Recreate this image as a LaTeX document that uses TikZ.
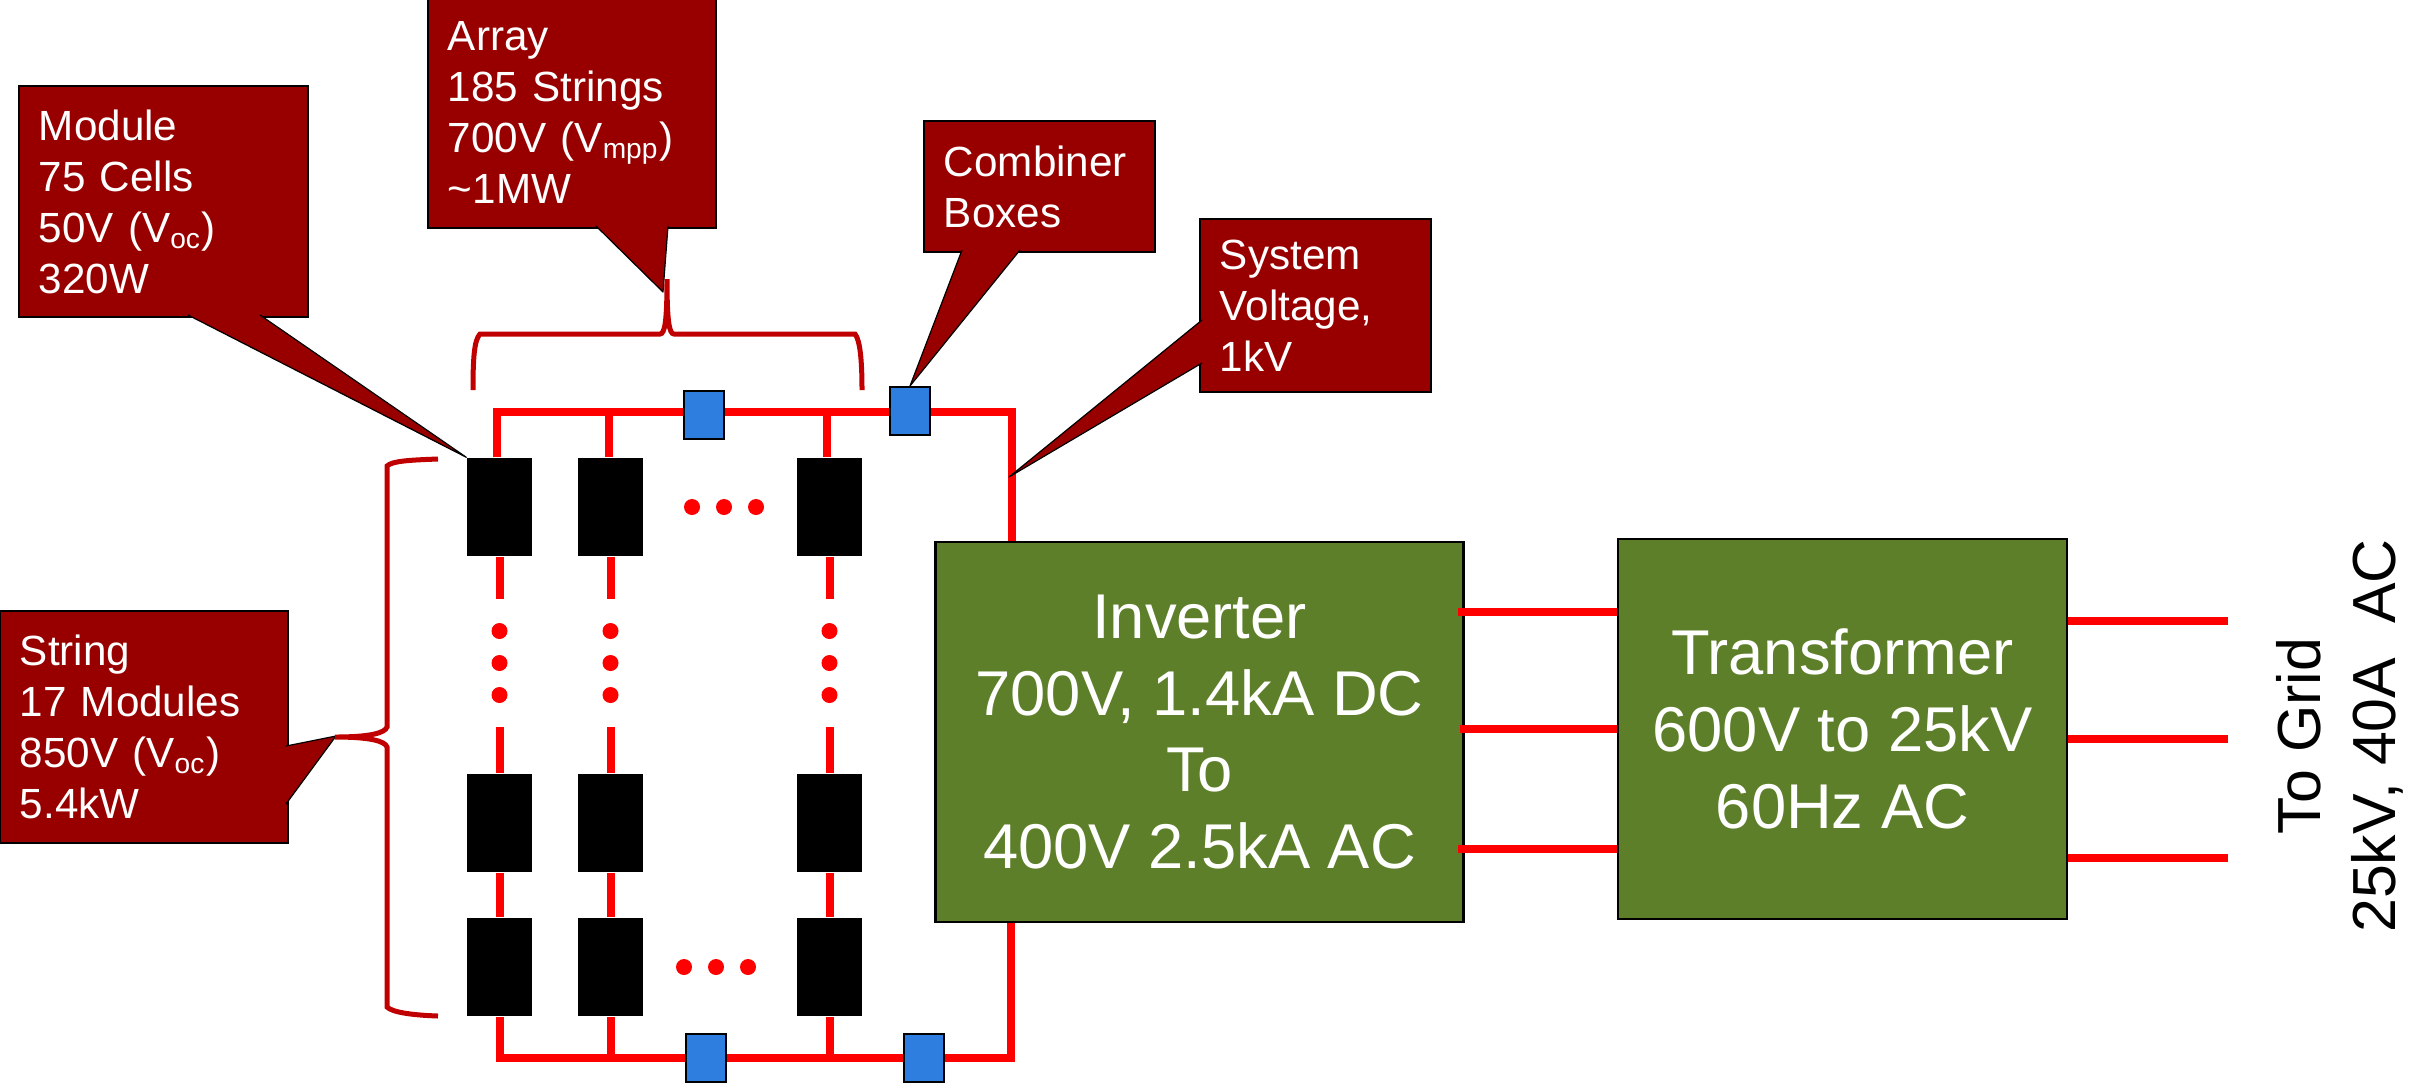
\documentclass[tikz,border=0pt]{standalone}
\usepackage{fontspec}
\setmainfont{Liberation Sans}
\usetikzlibrary{positioning}
\definecolor{calloutred}{HTML}{980000}
\definecolor{unitgreen}{HTML}{5E7F2A}
\definecolor{boxblue}{HTML}{2E7EE0}
\definecolor{bracketred}{HTML}{C00000}
\begin{document}
\begin{tikzpicture}[
            x=0.01cm, y=-0.01cm,
            callout/.style={draw=black, line width=0.02cm, fill=calloutred, text=white, inner xsep=0.2cm, inner ysep=0pt, align=left, font=\fontsize{12}{14.5}\selectfont},
            unit/.style={draw=black, line width=0.025cm, fill=unitgreen, text=white, inner sep=0pt, align=center, font=\fontsize{18}{21.8}\selectfont},
            module/.style={fill=black, inner sep=0pt, minimum width=0.65cm, minimum height=0.98cm},
            combiner/.style={draw=black, line width=0.02cm, fill=boxblue, inner sep=0pt, minimum width=0.40cm, minimum height=0.48cm},
            dot/.style={circle, fill=red, inner sep=0pt, minimum size=0.16cm},
            wire/.style={draw=red, line width=0.08cm},
            wedge/.style={draw=black, line width=0.012cm, line join=round, fill=calloutred},
            bracket/.style={draw=bracketred, line width=0.05cm}
        ]

            \useasboundingbox (0,0) rectangle (2413,1084);

            \node[callout, text width=2.49cm, minimum height=2.31cm] (modulenote) at (163.5,201.5) {Module\\75 Cells\\50V (V\textsubscript{oc})\\320W};
            \node[callout, text width=2.48cm, minimum height=2.31cm] (arraynote) at (572,112.5) {Array\\185 Strings\\700V (V\textsubscript{mpp})\\\textasciitilde1MW};
            \node[callout, text width=1.91cm, minimum height=1.31cm] (combinernote) at (1039.5,186.5) {Combiner\\Boxes};
            \node[callout, text width=1.91cm, minimum height=1.73cm] (systemnote) at (1315.5,305.5) {System\\Voltage,\\1kV};
            \node[callout, text width=2.48cm, minimum height=2.32cm] (stringnote) at (144,727) {String\\17 Modules\\850V (V\textsubscript{oc})\\5.4kW};

            \node[unit, minimum width=5.28cm, minimum height=3.80cm] (inverter) at (1199.5,732) {Inverter\\700V, 1.4kA DC\\To\\400V 2.5kA AC};
            \node[unit, minimum width=4.49cm, minimum height=3.80cm] (transformer) at (1842.5,729) {Transformer\\600V to 25kV\\60Hz AC};
            \node[rotate=90, align=center, font=\fontsize{17.3}{21.3}\selectfont] (grid) at (2340,736) {To Grid\\25kV, 40A\ \ AC};

            \foreach \c/\x in {a/499.5,b/610.5,c/829.5} {
                \node[module] (m\c1) at (\x,507) {};
                \node[module] (m\c2) at (\x,823) {};
                \node[module] (m\c3) at (\x,967) {};
                \coordinate (up\c) at (\x,599);
                \coordinate (dn\c) at (\x,727);
                \coordinate (bot\c) at (\x,1058);
                \foreach \y in {631,663,695}
                    \node[dot] (d\c\y) at (\x,\y) {};
                \draw[wire] (m\c1.south) -- (up\c);
                \draw[wire] (dn\c) -- (m\c2.north);
                \draw[wire] (m\c2.south) -- (m\c3.north);
                \draw[wire] (m\c3.south) -- (bot\c);
            }

            \foreach \x in {692,724,756}
                \node[dot] (topdot\x) at (\x,507) {};
            \foreach \x in {684,716,748}
                \node[dot] (botdot\x) at (\x,967) {};

            \node[combiner] (cbt1) at (704,415) {};
            \node[combiner] (cbt2) at (910,411) {};
            \node[combiner] (cbb1) at (705.5,1057.5) {};
            \node[combiner] (cbb2) at (924,1057.5) {};

            \coordinate (topa) at (497,412);
            \coordinate (topb) at (609,412);
            \coordinate (topc) at (827,412);
            \coordinate (topr) at (1012,412);
            \coordinate (botr) at (1011,1058);

            \draw[wire] (topa |- ma1.north) -- (topa) -- (topa -| cbt1.west);
            \draw[wire] (topb) -- (topb |- mb1.north);
            \draw[wire] (topc) -- (topc |- mc1.north);
            \draw[wire] (topa -| cbt1.east) -- (topa -| cbt2.west);
            \draw[wire] (topa -| cbt2.east) -- (topr) -- (topr |- inverter.north);
            \draw[wire] (inverter.south -| botr) -- (botr) -- (botr -| cbb2.east);
            \draw[wire] (botr -| cbb2.west) -- (botr -| cbb1.east);
            \draw[wire] (botr -| cbb1.west) -- (bota) -- (ma3.south);

            \coordinate (inva) at (1458,612);
            \coordinate (invb) at (1460,729);
            \coordinate (invc) at (1458,849);
            \coordinate (outa) at (2228,621);
            \coordinate (outb) at (2228,739);
            \coordinate (outc) at (2228,858);

            \draw[wire] (inva) -- (inva -| transformer.west);
            \draw[wire] (invb) -- (invb -| transformer.west);
            \draw[wire] (invc) -- (invc -| transformer.west);
            \draw[wire] (outa -| transformer.east) -- (outa);
            \draw[wire] (outb -| transformer.east) -- (outb);
            \draw[wire] (outc -| transformer.east) -- (outc);

            \coordinate (arraytip) at (663,292);
            \coordinate (stringtip) at (336,736);
            \coordinate (systemtip) at (1009,477);

            \draw[wedge] (188,315) -- (ma1.north west) -- (260,315);
            \draw[wedge] (596,226) -- (arraytip) -- (668,226);
            \draw[wedge] (962,250) -- (cbt2.north) -- (1020,250);
            \draw[wedge] (1202,320) -- (systemtip) -- (1202,363);
            \draw[wedge] (286,746) -- (stringtip) -- (286,804);

            \draw[bracket] (473,390) .. controls (473,360) and (474,340) .. (480,334) -- (660,334) .. controls (665,334) and (667,320) .. (667,279) .. controls (667,320) and (669,334) .. (674,334) -- (855,334) .. controls (860,340) and (862,360) .. (862,390);
            \draw[bracket] (438,459) .. controls (410,460) and (392,461) .. (387,466) -- (387,727) .. controls (385,733) and (370,737) .. (335,737) .. controls (370,737) and (385,741) .. (387,747) -- (387,1007) .. controls (392,1012) and (410,1015) .. (438,1016);

        \end{tikzpicture}
\end{document}
